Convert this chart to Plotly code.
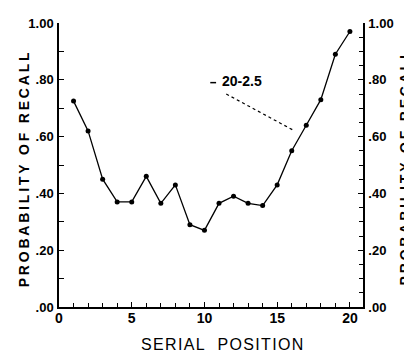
import plotly.graph_objects as go

serial_position = list(range(1, 21))
prob_recall = [0.725, 0.62, 0.45, 0.37, 0.37, 0.46, 0.365, 0.43, 0.29, 0.27,
               0.365, 0.39, 0.365, 0.357, 0.43, 0.55, 0.64, 0.73, 0.89, 0.97]
x_tick_vals = [0, 5, 10, 15, 20]
y_tick_vals = [0.0, 0.2, 0.4, 0.6, 0.8, 1.0]
y_tick_text = [".00", ".20", ".40", ".60", ".80", "1.00"]
curve_label = "20-2.5"
y_title = "PROBABILITY OF RECALL"
x_title = "SERIAL  POSITION"

# page has an 8px body margin; figure sized to fit the 412x358 window
OFF = 8
W, H = 412 - OFF, 358 - OFF
L, R, T, B = 59 - OFF, 412 - 363, 16 - OFF, 358 - 307

def spaced(s, sep="\u2009"):
    return sep.join(s)

fig = go.Figure()
fig.add_trace(go.Scatter(
    x=serial_position, y=prob_recall, mode="lines+markers",
    line=dict(color="black", width=1.3),
    marker=dict(color="black", size=5),
    showlegend=False, hoverinfo="skip"))
fig.add_trace(go.Scatter(x=[0], y=[0], yaxis="y2", mode="markers",
                         marker=dict(opacity=0), showlegend=False, hoverinfo="skip"))

fig.update_layout(
    width=W, height=H,
    margin=dict(l=L, r=R, t=T, b=B),
    paper_bgcolor="white", plot_bgcolor="white",
    font=dict(family="Liberation Sans, Arial", color="black"),
    xaxis=dict(range=[0, 20.9], showgrid=False, zeroline=False,
               showline=True, linecolor="black", linewidth=1.5,
               tickvals=x_tick_vals, ticktext=["<b>%d</b>" % v for v in x_tick_vals],
               ticks="inside", ticklen=5, tickcolor="black", tickwidth=1,
               minor=dict(dtick=1, ticks="inside", ticklen=4, tickcolor="black"),
               tickfont=dict(family="Liberation Sans, Arial", size=14, color="black"),
               ticklabelstandoff=-3),
    yaxis=dict(range=[0, 1.0], showgrid=False, zeroline=False,
               showline=True, linecolor="black", linewidth=1.5,
               tickvals=y_tick_vals, ticktext=["<b>%s</b>" % t for t in y_tick_text],
               ticks="inside", ticklen=5, tickcolor="black",
               minor=dict(dtick=0.1, ticks="inside", ticklen=5, tickcolor="black"),
               tickfont=dict(family="Liberation Sans, Arial", size=13, color="black"),
               ticklabelstandoff=1),
    yaxis2=dict(range=[0, 1.0], overlaying="y", side="right", showgrid=False,
                zeroline=False, showline=True, linecolor="black", linewidth=1.5,
                tickvals=y_tick_vals, ticktext=["<b>%s</b>" % t for t in y_tick_text],
                ticks="inside", ticklen=5, tickcolor="black",
                minor=dict(dtick=0.05, ticks="inside", ticklen=4, tickcolor="black"),
                tickfont=dict(family="Liberation Sans, Arial", size=13, color="black"),
                ticklabelstandoff=1),
)

pw = W - L - R
ph = H - T - B
def px(x):  # page pixel -> paper
    return (x - OFF - L) / pw
def py(y):
    return (H - B - (y - OFF)) / ph

common = dict(xref="paper", yref="paper", showarrow=False,
              xanchor="center", yanchor="middle")
fig.add_annotation(text="<b>" + spaced(y_title) + "</b>", x=px(24), y=py(167), textangle=-90,
                   font=dict(family="Liberation Sans, Arial", size=14, color="black"),
                   **common)
fig.add_annotation(text="<b>" + spaced(y_title) + "</b>", x=px(405), y=py(165), textangle=-90,
                   font=dict(family="Liberation Sans, Arial", size=14, color="black"),
                   **common)
fig.add_annotation(text=spaced(x_title, "\u200a"), x=px(222), y=py(345),
                   font=dict(family="Liberation Sans, Arial", size=16, color="black"),
                   **common)
fig.add_annotation(text="<b>" + curve_label + "</b>", xref="x", yref="y",
                   x=12.6, y=0.795, showarrow=False, xanchor="center", yanchor="middle",
                   font=dict(family="Liberation Sans, Arial", size=14, color="black"))
fig.add_shape(type="line", xref="x", yref="y", x0=10.4, x1=10.8, y0=0.79, y1=0.79,
              line=dict(color="black", width=1.5))
fig.add_shape(type="line", xref="x", yref="y", x0=11.5, x1=16.2, y0=0.75, y1=0.62,
              line=dict(color="black", width=1.2, dash="dot"))

fig.write_html("out.html")
